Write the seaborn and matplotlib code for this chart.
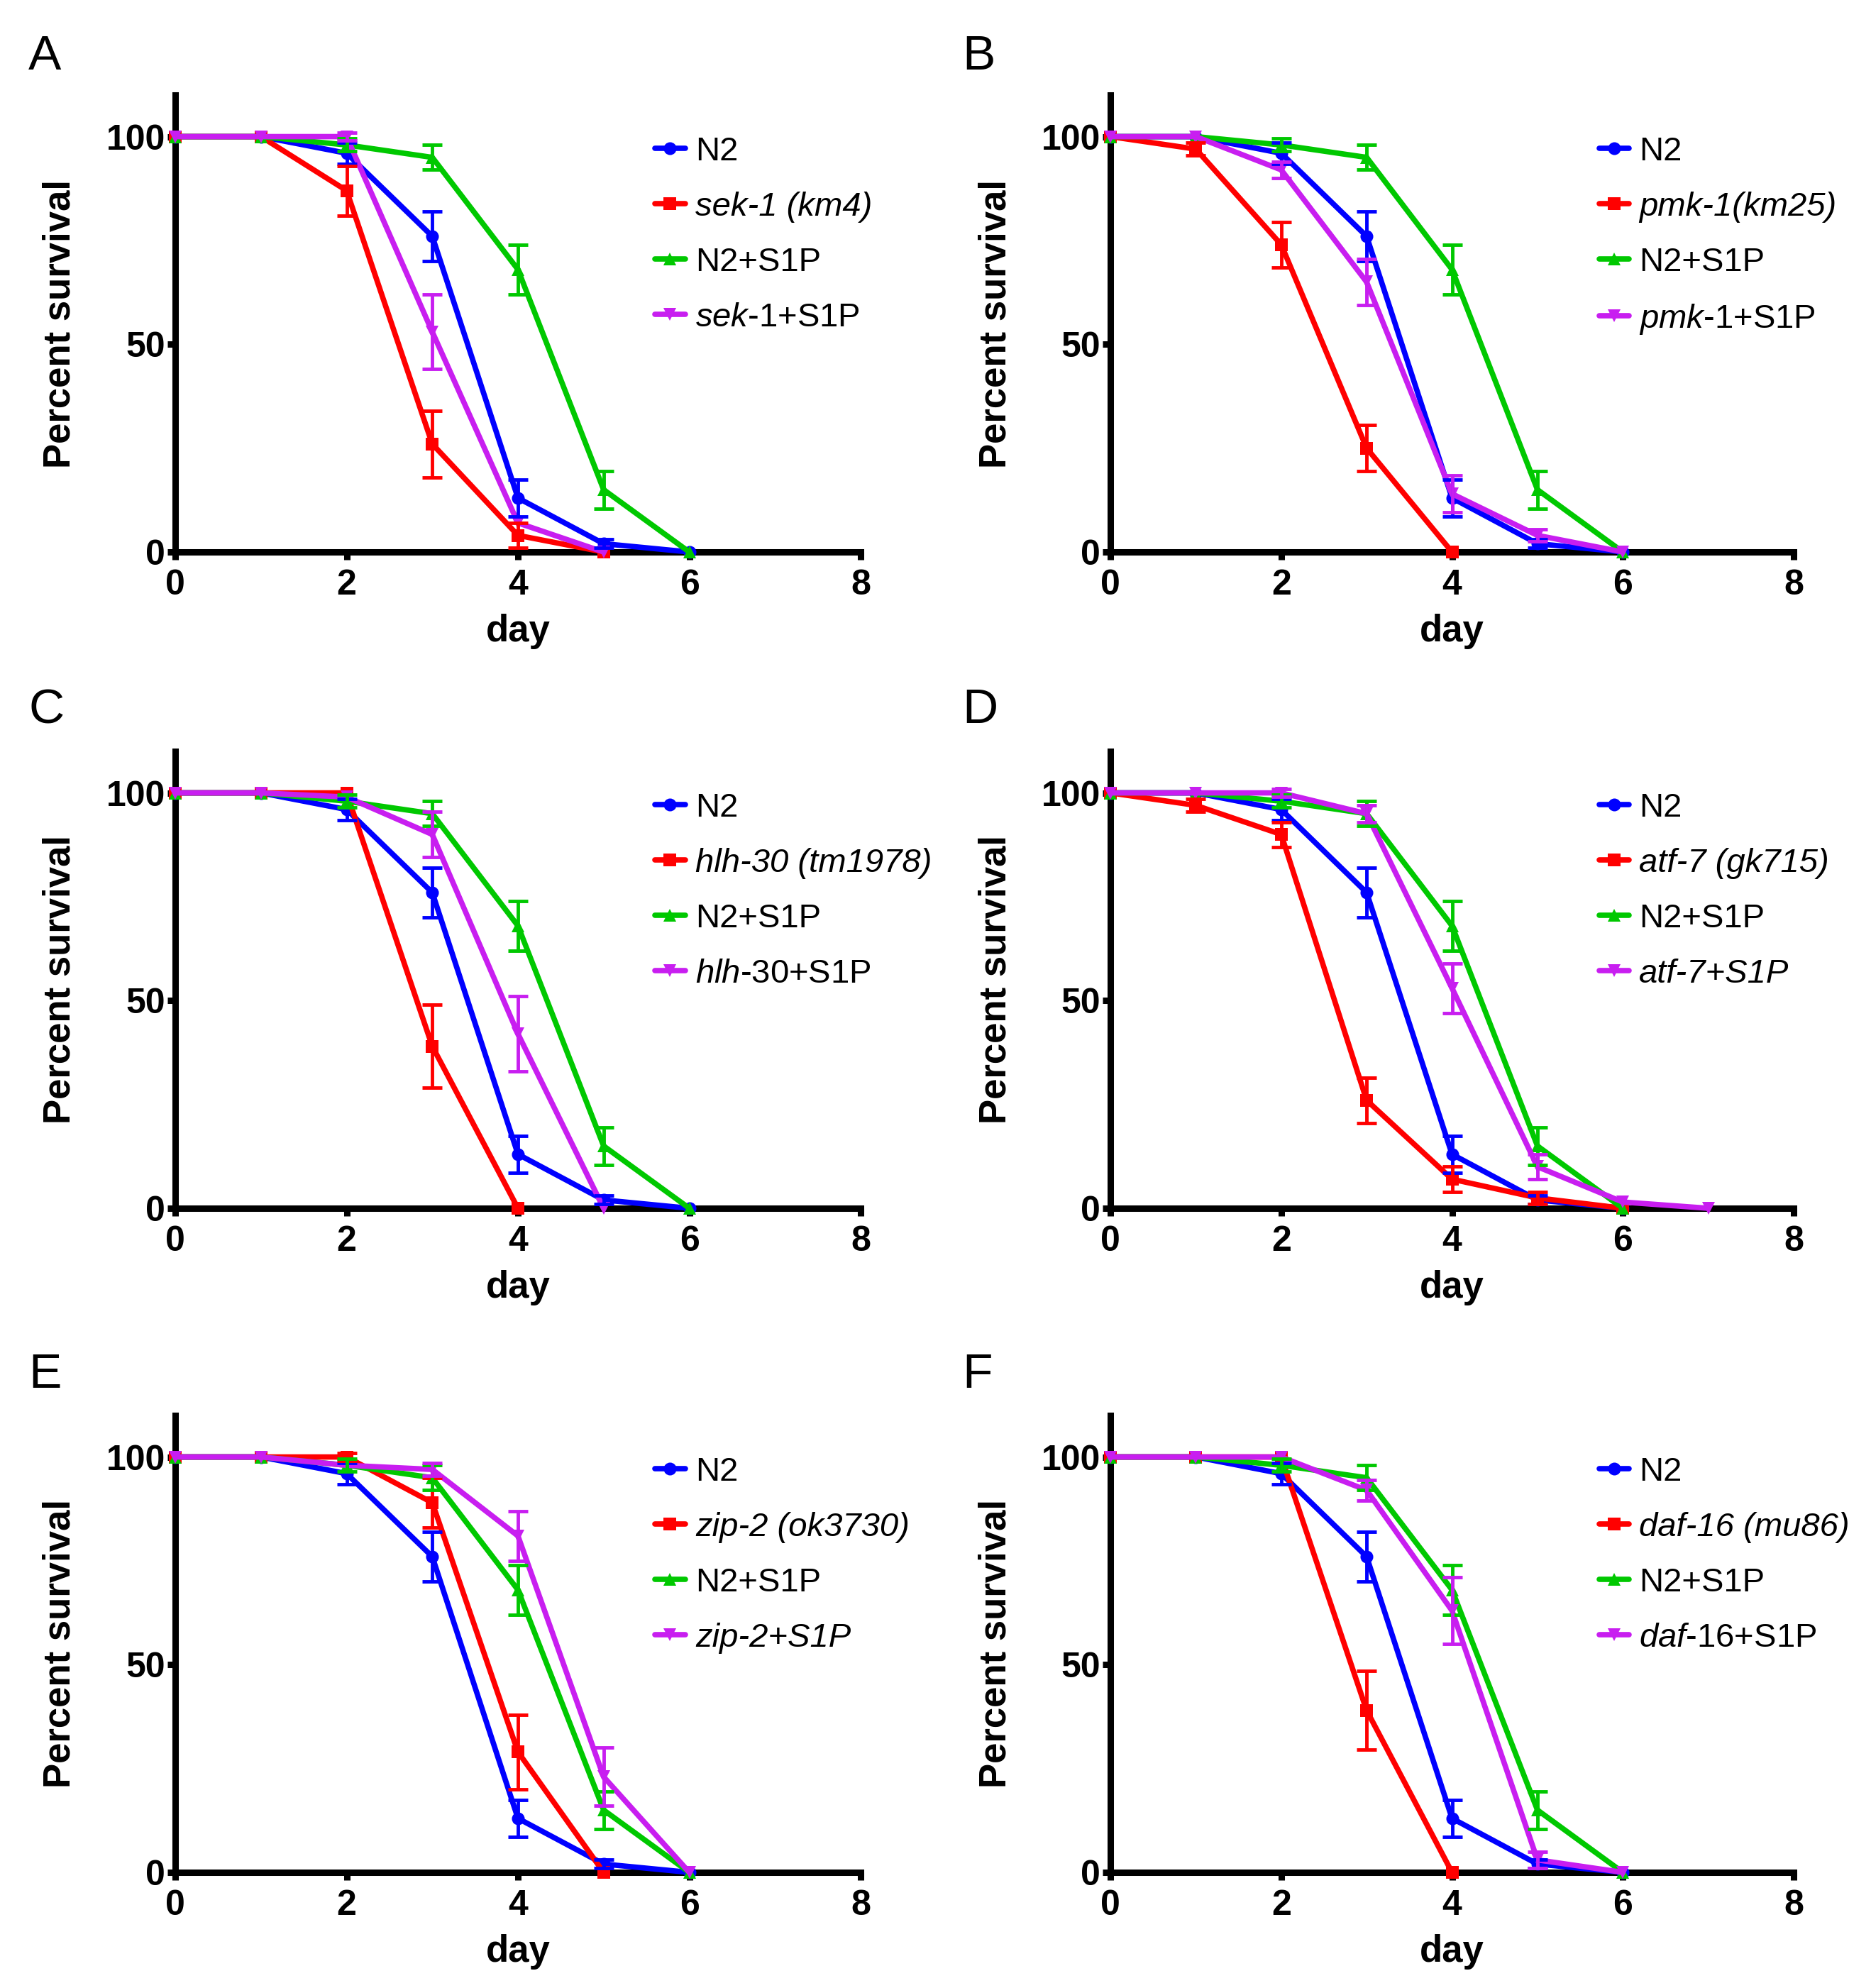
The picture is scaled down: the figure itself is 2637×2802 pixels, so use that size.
import matplotlib
matplotlib.use("Agg")
import matplotlib.pyplot as plt
import seaborn as sns
import pandas as pd

# controles comuns a todos os paineis (sobrevivencia %, erro)
days = [0, 1, 2, 3, 4, 5, 6]
n2 = [100, 100, 96, 76, 13, 2, 0]
n2_err = [0, 0, 2.5, 6, 4.5, 1, 0]
n2_s1p = [100, 100, 98, 95, 68, 15, 0]
n2_s1p_err = [0, 0, 1.5, 3, 6, 4.5, 0]

# A - sek-1
sek1_days = [0, 1, 2, 3, 4, 5]
sek1 = [100, 100, 87, 26, 4, 0]
sek1_err = [0, 0, 6, 8, 3, 0]
sek1_s1p_days = [0, 1, 2, 3, 4, 5]
sek1_s1p = [100, 100, 100, 53, 7, 0]
sek1_s1p_err = [0, 0, 1, 9, 0, 0]

# B - pmk-1
pmk1_days = [0, 1, 2, 3, 4]
pmk1 = [100, 97, 74, 25, 0]
pmk1_err = [0, 1.5, 5.5, 5.5, 0]
pmk1_s1p_days = [0, 1, 2, 3, 4, 5, 6]
pmk1_s1p = [100, 100, 92, 65, 14, 4, 0]
pmk1_s1p_err = [0, 0, 2, 5.5, 4.5, 1.5, 0]

# C - hlh-30
hlh30_days = [0, 1, 2, 3, 4]
hlh30 = [100, 100, 100, 39, 0]
hlh30_err = [0, 0, 0, 10, 0]
hlh30_s1p_days = [0, 1, 2, 3, 4, 5]
hlh30_s1p = [100, 100, 99, 90, 42, 0]
hlh30_s1p_err = [0, 0, 0, 5.5, 9, 0]

# D - atf-7
atf7_days = [0, 1, 2, 3, 4, 5, 6]
atf7 = [100, 97, 90, 26, 7, 2.5, 0]
atf7_err = [0, 1.5, 3, 5.5, 3, 1.5, 0]
atf7_s1p_days = [0, 1, 2, 3, 4, 5, 6, 7]
atf7_s1p = [100, 100, 100, 95, 53, 10, 1.5, 0]
atf7_s1p_err = [0, 0, 1, 2, 6, 3, 0, 0]

# E - zip-2
zip2_days = [0, 1, 2, 3, 4, 5]
zip2 = [100, 100, 100, 89, 29, 0]
zip2_err = [0, 0, 1, 6, 9, 0]
zip2_s1p_days = [0, 1, 2, 3, 4, 5, 6]
zip2_s1p = [100, 100, 98, 97, 81, 23, 0]
zip2_s1p_err = [0, 0, 0, 1.5, 6, 7, 0]

# F - daf-16
daf16_days = [0, 1, 2, 3, 4]
daf16 = [100, 100, 100, 39, 0]
daf16_err = [0, 0, 0, 9.5, 0]
daf16_s1p_days = [0, 1, 2, 3, 4, 5, 6]
daf16_s1p = [100, 100, 100, 92, 63, 3, 0]
daf16_s1p_err = [0, 0, 0, 2.5, 8, 2, 0]

paineis = [
    ("A", "sek-1 (km4)", r"$\mathit{sek}$-$\mathit{1}$+S1P", False,
     (sek1_days, sek1, sek1_err), (sek1_s1p_days, sek1_s1p, sek1_s1p_err)),
    ("B", "pmk-1(km25)", r"$\mathit{pmk}$-$\mathit{1}$+S1P", False,
     (pmk1_days, pmk1, pmk1_err), (pmk1_s1p_days, pmk1_s1p, pmk1_s1p_err)),
    ("C", "hlh-30 (tm1978)", r"$\mathit{hlh}$-$\mathit{30}$+S1P", False,
     (hlh30_days, hlh30, hlh30_err), (hlh30_s1p_days, hlh30_s1p, hlh30_s1p_err)),
    ("D", "atf-7 (gk715)", "atf-7+S1P", True,
     (atf7_days, atf7, atf7_err), (atf7_s1p_days, atf7_s1p, atf7_s1p_err)),
    ("E", "zip-2 (ok3730)", "zip-2+S1P", True,
     (zip2_days, zip2, zip2_err), (zip2_s1p_days, zip2_s1p, zip2_s1p_err)),
    ("F", "daf-16 (mu86)", r"$\mathit{daf}$-$\mathit{16}$+S1P", False,
     (daf16_days, daf16, daf16_err), (daf16_s1p_days, daf16_s1p, daf16_s1p_err)),
]

cores = ["#0000FF", "#FF0000", "#00C800", "#C81EF0"]
marcadores = ["o", "s", "^", "v"]

sns.set_style("ticks")
plt.rcParams["font.family"] = ["Liberation Sans", "DejaVu Sans"]
plt.rcParams["mathtext.fontset"] = "custom"
plt.rcParams["mathtext.rm"] = "Liberation Sans"
plt.rcParams["mathtext.it"] = "Liberation Sans:italic"
plt.rcParams["axes.edgecolor"] = "black"
plt.rcParams["xtick.color"] = "black"
plt.rcParams["ytick.color"] = "black"
plt.rcParams["text.color"] = "black"
plt.rcParams["axes.labelcolor"] = "black"

W, H = 2637, 2802
fig = plt.figure(figsize=(W / 100, H / 100), dpi=100)

col_x = [247, 1565]
col_w = [966, 963]
row_top = [134, 1059, 1995]
row_h = 644
letra_x = [40, 1356]
letra_base = [98, 1019, 1956]

for i, (letra, lab_mut, lab_s1p, s1p_italico, mut, mut_s1p) in enumerate(paineis):
    r, c = divmod(i, 2)
    ax = fig.add_axes([col_x[c] / W, 1 - (row_top[r] + row_h) / H, col_w[c] / W, row_h / H])

    labels = ["N2", lab_mut, "N2+S1P", lab_s1p]
    series = [(days, n2, n2_err), mut, (days, n2_s1p, n2_s1p_err), mut_s1p]
    frames = []
    for lab, (d, s, e) in zip(labels, series):
        frames.append(pd.DataFrame({"day": d, "surv": s, "err": e, "grupo": lab}))
    df = pd.concat(frames, ignore_index=True)

    sns.lineplot(data=df, x="day", y="surv", hue="grupo", style="grupo",
                 hue_order=labels, style_order=labels,
                 palette=dict(zip(labels, cores)),
                 markers=dict(zip(labels, marcadores)), dashes=False,
                 linewidth=5.5, markersize=13, markeredgewidth=0,
                 clip_on=False, zorder=3, ax=ax)

    # barras de erro (SEM)
    for lab, cor in zip(labels, cores):
        sub = df[(df.grupo == lab) & (df.err > 0)]
        ax.errorbar(sub.day, sub.surv, yerr=sub.err, fmt="none", ecolor=cor,
                    elinewidth=3.5, capsize=10, capthick=3.5, zorder=3, clip_on=False)

    ax.set_xlim(0, 8)
    ax.set_ylim(0, 110)
    ax.set_xticks([0, 2, 4, 6, 8])
    ax.set_yticks([0, 50, 100])
    for sp in ["top", "right"]:
        ax.spines[sp].set_visible(False)
    for sp in ["left", "bottom"]:
        ax.spines[sp].set_linewidth(6.5)
    ax.tick_params(axis="both", width=6.5, length=8, labelsize=36)
    ax.tick_params(axis="y", pad=2)
    ax.tick_params(axis="x", pad=9)
    for t in ax.get_xticklabels() + ax.get_yticklabels():
        t.set_fontweight("bold")

    ax.set_xlabel("day", fontsize=38, fontweight="bold")
    ax.set_ylabel("Percent survival", fontsize=38, fontweight="bold")
    ax.xaxis.set_label_coords(0.5, -0.135)
    ax.yaxis.set_label_coords(-0.142, 0.5)

    handles, labs = ax.get_legend_handles_labels()
    leg = ax.legend(handles[:4], labs[:4], loc="upper left",
                    bbox_to_anchor=(0.70 if c == 0 else 0.715, 0.91),
                    frameon=False, fontsize=34, borderpad=0, borderaxespad=0,
                    handlelength=0.9, handletextpad=0.3, labelspacing=0.72)
    txts = leg.get_texts()
    txts[1].set_fontstyle("italic")
    if s1p_italico:
        txts[3].set_fontstyle("italic")

    fig.text(letra_x[c] / W, 1 - letra_base[r] / H, letra, fontsize=50,
             va="baseline", ha="left")

fig.savefig("out.png", dpi=100)
